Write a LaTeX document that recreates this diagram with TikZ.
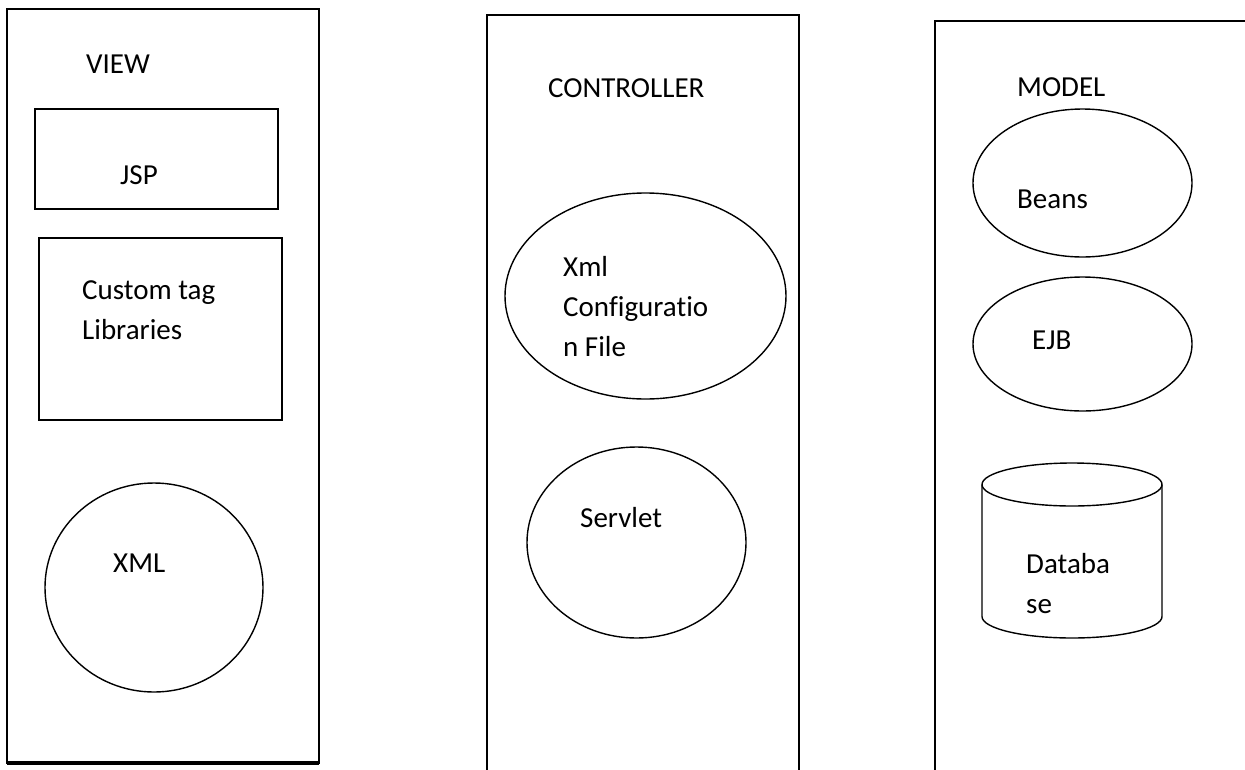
\documentclass[tikz,border=0pt]{standalone}
\usepackage{fontspec}
\setmainfont{Carlito}[Ligatures=NoCommon]
\usepackage{tikz}
\usetikzlibrary{shapes.geometric}
\tikzstyle{panel} = [draw=black, line width=1.8pt]
\tikzstyle{box} = [rectangle, draw=black, line width=1.4pt, inner sep=0pt]
\tikzstyle{oval} = [ellipse, draw=black, line width=1.4pt, inner sep=0pt]
\tikzstyle{txt} = [anchor=base west, inner sep=0pt, align=left, font=\fontsize{29}{40}\selectfont]

\begin{document}
\begin{tikzpicture}[x=1pt, y=-1pt]
\useasboundingbox (0,0) rectangle (1245,769);
\clip (0,0) rectangle (1245,769);

% panels
\draw [panel] (7,9) rectangle (319,763);
\draw [line width=4pt] (7,763) -- (319,763);
\draw [panel] (487,780) -- (487,15) -- (799,15) -- (799,780);
\draw [panel] (935,780) -- (935,21) -- (1260,21);

% view
\node (viewTitle) [txt] at (86,73) {VIEW};
\node (jsp) [box, minimum width=243pt, minimum height=100pt] at (156.5,159) {};
\node (jspText) [txt] at (120,184) {JSP};
\node (customTag) [box, minimum width=243pt, minimum height=182pt] at (160.5,329) {};
\node (customText) [txt] at (82,339) {Custom tag\\Libraries};
\node (xml) [oval, minimum width=218pt, minimum height=209pt] at (154,587.5) {};
\node (xmlText) [txt] at (113,572) {XML};

% controller
\node (ctrlTitle) [txt] at (548,97) {CONTROLLER};
\node (config) [oval, minimum width=281pt, minimum height=206pt] at (645.5,296) {};
\node (configText) [txt] at (563,356) {Xml\\Configuratio\\n File};
\node (servlet) [oval, minimum width=219pt, minimum height=191pt] at (636.5,542.5) {};
\node (servletText) [txt] at (580,527) {Servlet};

% model
\node (modelTitle) [txt] at (1017,96) {MODEL};
\node (beans) [oval, minimum width=219pt, minimum height=148pt] at (1082.5,183) {};
\node (beansText) [txt] at (1017,208) {Beans};
\node (ejb) [oval, minimum width=219pt, minimum height=134pt] at (1082.5,344) {};
\node (ejbText) [txt] at (1032,349) {EJB};
\draw [box] (1072,484.5) ellipse [x radius=90, y radius=21.5];
\draw [box] (982,484.5) -- (982,616.5) arc [start angle=180, end angle=0, x radius=90, y radius=21.5] -- (1162,484.5);
\node (dbText) [txt] at (1026,613) {Databa\\se};
\end{tikzpicture}
\end{document}
